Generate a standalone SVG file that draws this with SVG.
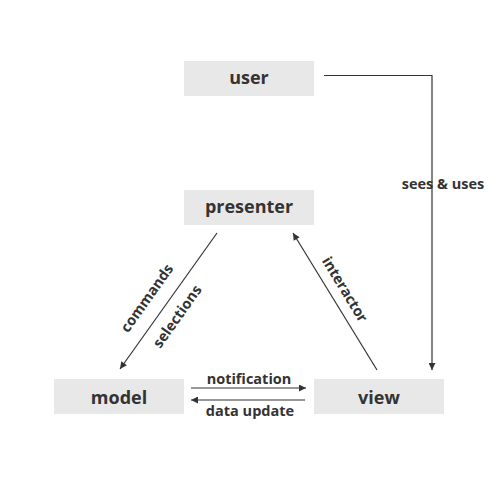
<svg xmlns="http://www.w3.org/2000/svg" width="500" height="500" viewBox="0 0 500 500">
<defs>
<marker id="ah" viewBox="0 0 10 10" refX="10" refY="5" markerWidth="10" markerHeight="7" markerUnits="userSpaceOnUse" orient="auto">
<path d="M0,0 L10,5 L0,10 z" fill="#333"/>
</marker>
<style>
.box{fill:#e8e8e8}
.nl{font-family:"Open Sans","DejaVu Sans",sans-serif;font-weight:bold;font-size:18px;fill:#333;text-anchor:middle}
.el{font-family:"Open Sans","DejaVu Sans",sans-serif;font-weight:bold;font-size:14.5px;fill:#333;text-anchor:middle}
.ln{stroke:#333;stroke-width:1.2;fill:none}
</style>
</defs>
<rect width="500" height="500" fill="#fff"/>
<g id="user"><rect class="box" x="184" y="61" width="130" height="35"/><text class="nl" x="249" y="84">user</text></g>
<g id="presenter"><rect class="box" x="184" y="190" width="130" height="35"/><text class="nl" x="249" y="213">presenter</text></g>
<g id="model"><rect class="box" x="54" y="379" width="130" height="35"/><text class="nl" x="119" y="404">model</text></g>
<g id="view"><rect class="box" x="314" y="379" width="130" height="35"/><text class="nl" x="379" y="404">view</text></g>
<g id="connectors">
<path class="ln" d="M324,75.5 H432 V370" marker-end="url(#ah)"/>
<text class="el" x="443" y="189">sees &amp; uses</text>
<path class="ln" d="M217,233 L120,369" marker-end="url(#ah)"/>
<text class="el" transform="translate(151,301) rotate(-54.6)">commands</text>
<text class="el" transform="translate(178,317) rotate(-54.6)" dy="4">selections</text>
<path class="ln" d="M377,370 L293,233" marker-end="url(#ah)"/>
<text class="el" transform="translate(344,290) rotate(58.5)" dy="4">interactor</text>
<path class="ln" d="M191,388 H306" marker-end="url(#ah)"/>
<text class="el" x="249" y="384">notification</text>
<path class="ln" d="M305,400 H191" marker-end="url(#ah)"/>
<text class="el" x="250" y="416">data update</text>
</g>
</svg>
